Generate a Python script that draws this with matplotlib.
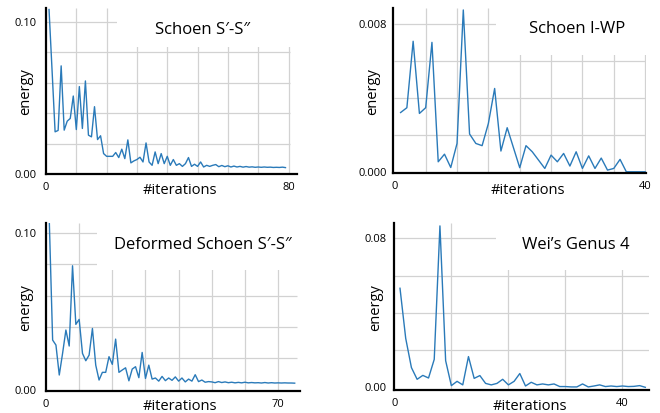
import matplotlib
matplotlib.use('Agg')
import matplotlib.pyplot as plt
from matplotlib.patches import Rectangle

plt.rcParams['font.family'] = ['Open Sans', 'DejaVu Sans']

W, H = 660, 413

# ─────────────────────────────────────────────────────────────
# DATA  (energy per iteration)
# ─────────────────────────────────────────────────────────────

schoen_ss = [0.108, 0.068, 0.0277, 0.0286, 0.071, 0.0288, 0.0347, 0.0365, 0.0512, 0.0292,
             0.0574, 0.0299, 0.0611, 0.0255, 0.0244, 0.0442, 0.0226, 0.0251, 0.0134, 0.0116,
             0.0116, 0.0116, 0.0141, 0.0108, 0.0163, 0.0101, 0.0224, 0.0073, 0.0086, 0.0095,
             0.011, 0.0079, 0.0204, 0.0079, 0.0057, 0.0145, 0.0068, 0.0134, 0.0068, 0.0116,
             0.0057, 0.0095, 0.0057, 0.0068, 0.005, 0.0068, 0.0108, 0.005, 0.0064, 0.005,
             0.0079, 0.0046, 0.0057, 0.005, 0.0057, 0.0062, 0.0048, 0.0056, 0.0048, 0.0054,
             0.0046, 0.0052, 0.0046, 0.005, 0.0045, 0.0049, 0.0045, 0.0047, 0.0044, 0.0046,
             0.0044, 0.0046, 0.0044, 0.0045, 0.0043, 0.0044, 0.0043, 0.0045, 0.0042]

schoen_iwp = [0.0032, 0.00346, 0.00705, 0.00315, 0.00346, 0.00699, 0.00054, 0.00095, 0.00023, 0.00153,
              0.00874, 0.00204, 0.00153, 0.00141, 0.00261, 0.0045, 0.00112, 0.00238, 0.0013, 0.00022,
              0.00141, 0.00108, 0.00063, 0.00018, 0.0009, 0.00054, 0.00099, 0.00031, 0.00108, 0.00018,
              0.00086, 0.00018, 0.00074, 0.00009, 0.00018, 0.00067, 0.0, 0.0, 0.0, 0.0]

deformed_ss = [0.107, 0.0317, 0.0285, 0.0094, 0.0232, 0.0381, 0.0279, 0.0791, 0.0417, 0.0449,
               0.0232, 0.0185, 0.0221, 0.0391, 0.0157, 0.0062, 0.0111, 0.0111, 0.0211, 0.0162,
               0.0323, 0.0111, 0.0126, 0.014, 0.0057, 0.0132, 0.0147, 0.0077, 0.0238, 0.0072,
               0.0157, 0.0068, 0.0075, 0.0055, 0.0085, 0.0058, 0.0075, 0.006, 0.0082, 0.0055,
               0.0075, 0.005, 0.0068, 0.0055, 0.0096, 0.0052, 0.0062, 0.0048, 0.0052, 0.005,
               0.0045, 0.0052, 0.0046, 0.005, 0.0045, 0.0048, 0.0044, 0.0047, 0.0044, 0.0048,
               0.0044, 0.0046, 0.0044, 0.0045, 0.0043, 0.0046, 0.0043, 0.0045, 0.0043, 0.0044,
               0.0043, 0.0044, 0.0043, 0.0043, 0.0042]

wei_genus4 = [0.0532, 0.0263, 0.0106, 0.0043, 0.0064, 0.005, 0.015, 0.0867, 0.0143, 0.0009,
              0.0032, 0.0013, 0.0165, 0.0048, 0.0063, 0.0021, 0.0013, 0.0021, 0.0043, 0.0013,
              0.0032, 0.0074, 0.0007, 0.0027, 0.0013, 0.0018, 0.0013, 0.0018, 0.0004, 0.0004,
              0.0002, 0.0002, 0.0018, 0.0002, 0.0007, 0.0013, 0.0004, 0.0007, 0.0004, 0.0007,
              0.0004, 0.0005, 0.0009, 0.0]

titles = ["Schoen S′-S″", "Schoen I-WP", "Deformed Schoen S′-S″", "Wei’s Genus 4"]
xticks = [[0, 80], [0, 40], [0, 70], [0, 40]]
yticks = [[0.0, 0.10], [0.0, 0.008], [0.0, 0.10], [0.0, 0.08]]
ytick_labels = [["0.00", "0.10"], ["0.000", "0.008"], ["0.00", "0.10"], ["0.00", "0.08"]]
hgrid = [[0.02, 0.04, 0.06, 0.08, 0.10], [0.002, 0.004, 0.006, 0.008],
         [0.02, 0.04, 0.06, 0.08, 0.10], [0.02, 0.04, 0.06, 0.08]]
vgrid = [list(range(10, 81, 10)), list(range(5, 41, 5)), list(range(10, 71, 10)), list(range(10, 41, 10))]

# ─────────────────────────────────────────────────────────────
# LAYOUT (pixels)
# ─────────────────────────────────────────────────────────────

layout = [
    dict(box=(46, 8, 297, 174), xlim=(0, 82.8), ylim=(0, 0.109), hend=80.4, mask=(23.3, 0.0837),
         title=(203, 34), ylab=(29, 92), xlab=(180, 194), ypad=6.5),
    dict(box=(392.7, 8.3, 646, 172.7), xlim=(-0.26, 40.14), ylim=(-0.00005, 0.00883), hend=40.0,
         mask=(16.2, 0.0063), title=(577, 33), ylab=(376, 92), xlab=(528, 194), ypad=4.0),
    dict(box=(46, 223.3, 300, 391), xlim=(0, 76.6), ylim=(-0.0008, 0.1062), hend=75.6,
         mask=(15.3, 0.0764), title=(203, 249), ylab=(29, 308), xlab=(180, 410), ypad=6.5),
    dict(box=(394.3, 223.3, 649.3, 390), xlim=(0, 44.7), ylim=(-0.00145, 0.0881), hend=44.6,
         mask=(17.8, 0.063), title=(576, 249), ylab=(379, 308), xlab=(530, 410), ypad=5.5),
]

series = [schoen_ss, schoen_iwp, deformed_ss, wei_genus4]

line_color = "#2a7ab9"
grid_color = "#d2d2d2"

fig = plt.figure(figsize=(W / 100, H / 100), dpi=100)

for k, (values, lay) in enumerate(zip(series, layout)):
    l, t, r, b = lay["box"]
    ax = fig.add_axes([l / W, 1 - b / H, (r - l) / W, (b - t) / H])
    ax.set_xlim(*lay["xlim"])
    ax.set_ylim(*lay["ylim"])
    ytop = lay["ylim"][1]

    ax.hlines(hgrid[k], 0, lay["hend"], color=grid_color, linewidth=0.9, zorder=1)
    ax.vlines(vgrid[k], lay["ylim"][0], ytop, color=grid_color, linewidth=0.9, zorder=1)

    # the title box hides the grid behind it
    mx, my = lay["mask"]
    ax.add_patch(Rectangle((mx, my), lay["xlim"][1] - mx + 5, ytop - my + 1,
                           facecolor="white", edgecolor="none", zorder=2))

    iters = list(range(1, len(values) + 1))
    ax.plot(iters, values, color=line_color, linewidth=1.0, zorder=3)

    for side in ("top", "right"):
        ax.spines[side].set_visible(False)
    for side in ("left", "bottom"):
        ax.spines[side].set_linewidth(1.6)
        ax.spines[side].set_color("black")
        ax.spines[side].set_zorder(4)

    ax.set_xticks(xticks[k])
    ax.set_xticklabels([str(v) for v in xticks[k]])
    ax.set_yticks(yticks[k])
    ax.set_yticklabels(ytick_labels[k])
    ax.tick_params(axis="x", length=0, pad=6.0, labelsize=8)
    ax.tick_params(axis="y", length=0, pad=lay["ypad"], labelsize=8)

    tx, ty = lay["title"]
    fig.text(tx / W, 1 - ty / H, titles[k], ha="center", va="baseline", fontsize=12, zorder=5)
    yx, yy = lay["ylab"]
    fig.text(yx / W, 1 - yy / H, "energy", rotation=90, rotation_mode="anchor",
             ha="center", va="baseline", fontsize=10.5)
    xx, xy = lay["xlab"]
    fig.text(xx / W, 1 - xy / H, "#iterations", ha="center", va="baseline", fontsize=10.5)

plt.savefig("out.png", dpi=100)
plt.close()
